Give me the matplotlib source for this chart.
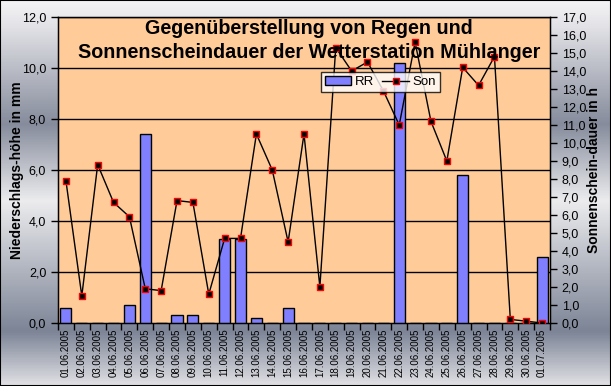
import matplotlib
matplotlib.use("Agg")
import matplotlib.pyplot as plt
import numpy as np
from matplotlib.colors import LinearSegmentedColormap
from matplotlib.patches import Patch
from matplotlib.lines import Line2D
from matplotlib.ticker import FixedLocator, FuncFormatter

dates = ["01.06.2005", "02.06.2005", "03.06.2005", "04.06.2005", "05.06.2005",
         "06.06.2005", "07.06.2005", "08.06.2005", "09.06.2005", "10.06.2005",
         "11.06.2005", "12.06.2005", "13.06.2005", "14.06.2005", "15.06.2005",
         "16.06.2005", "17.06.2005", "18.06.2005", "19.06.2005", "20.06.2005",
         "21.06.2005", "22.06.2005", "23.06.2005", "24.06.2005", "25.06.2005",
         "26.06.2005", "27.06.2005", "28.06.2005", "29.06.2005", "30.06.2005",
         "01.07.2005"]
rr = [0.6, 0, 0, 0, 0.7, 7.4, 0, 0.3, 0.3, 0, 3.3, 3.3, 0.2, 0, 0.6, 0, 0,
      0, 0, 0, 0, 10.2, 0, 0, 0, 5.8, 0, 0, 0, 0, 2.6]
son = [7.9, 1.5, 8.8, 6.7, 5.9, 1.9, 1.8, 6.8, 6.7, 1.6, 4.7, 4.7, 10.5, 8.5,
       4.5, 10.5, 2.0, 15.3, 14.0, 14.5, 12.9, 11.0, 15.6, 11.2, 9.0, 14.2,
       13.2, 14.8, 0.2, 0.1, 0.0]
left_ticks = [0, 2, 4, 6, 8, 10, 12]
right_ticks = list(range(0, 18))

plt.rcParams['font.family'] = ['Liberation Sans', 'DejaVu Sans']

W, H = 611, 386
fig = plt.figure(figsize=(W / 100, H / 100), dpi=100)

# metallic gradient background
bg = fig.add_axes([0, 0, 1, 1], zorder=-10)
cmap = LinearSegmentedColormap.from_list("metal", [
    (0.0, "#f4f4f6"), (0.06, "#e4e4e8"), (0.32, "#868c9c"), (0.52, "#ececee"),
    (0.86, "#7c8496"), (1.0, "#e0e0e4")])
grad = np.linspace(0, 1, 400).reshape(-1, 1)
bg.imshow(grad, aspect='auto', cmap=cmap, extent=[0, 1, 0, 1], origin='upper')
bg.set_xlim(0, 1); bg.set_ylim(0, 1)
bg.axis('off')
fig.patches.append(plt.Rectangle((0, 0), 1, 1, transform=fig.transFigure,
                                 fill=False, edgecolor='black', linewidth=1.5, zorder=100))

ax = fig.add_axes([58 / W, (H - 323) / H, (550 - 58) / W, (323 - 17) / H])
ax.set_facecolor('#ffcc99')
x = np.arange(len(dates))
ax.bar(x, rr, width=0.7, color='#8080ff', edgecolor='black', linewidth=1, zorder=3)
ax.set_xlim(-0.5, len(dates) - 0.5)
ax.set_ylim(0, 12)
ax.set_yticks(left_ticks)
fmt = FuncFormatter(lambda v, p: f"{v:.1f}".replace('.', ','))
ax.yaxis.set_major_formatter(fmt)
for t in left_ticks[1:]:
    ax.axhline(t, color='black', linewidth=1, zorder=1)
ax.set_xticks(x)
ax.set_xticklabels(dates, rotation=90, fontsize=7)
ax.xaxis.set_minor_locator(FixedLocator(np.arange(-0.5, len(dates), 1.0)))
ax.tick_params(axis='x', which='major', length=0, pad=4)
ax.tick_params(axis='x', which='minor', length=5, direction='out', width=1)
ax.tick_params(axis='y', length=5, direction='out', width=1, labelsize=9)
for s in ax.spines.values():
    s.set_color('black')
    s.set_linewidth(1)
ax.set_ylabel("Niederschlags-höhe in mm", fontsize=10, fontweight='bold')
ax.yaxis.set_label_coords((24 - 58) / 492, 0.5)

ax2 = ax.twinx()
ax2.plot(x, son, color='black', linewidth=1, marker='s', markersize=5,
         markerfacecolor='black', markeredgecolor='red', markeredgewidth=1, zorder=4)
ax2.set_ylim(0, 17)
ax2.set_yticks(right_ticks)
ax2.yaxis.set_major_formatter(fmt)
ax2.tick_params(axis='y', length=5, direction='out', width=1, labelsize=9)
ax2.set_ylabel("Sonnenschein-dauer in h", fontsize=10, fontweight='bold')
ax2.yaxis.set_label_coords((587 - 58) / 492, 0.5)

ax2.text(0.51, 0.995, "Gegenüberstellung von Regen und\nSonnenscheindauer der Wetterstation Mühlanger",
         transform=ax2.transAxes, ha='center', va='top', fontsize=14.2,
         fontweight='bold', linespacing=1.35, zorder=10)

handles = [Patch(facecolor='#8080ff', edgecolor='black', label='RR'),
           Line2D([0], [0], color='black', linewidth=1, marker='s', markersize=5,
                  markerfacecolor='black', markeredgecolor='red', label='Son')]
leg = fig.legend(handles=handles, ncol=2, loc='upper left',
                 bbox_to_anchor=(321 / W, (H - 72) / H), frameon=True, fancybox=False,
                 edgecolor='black', fontsize=9.5, borderpad=0.3, handlelength=2.0,
                 columnspacing=0.6, handletextpad=0.3, borderaxespad=0)
leg.get_frame().set_linewidth(1)
leg.set_zorder(20)

fig.savefig("out.png", dpi=100)
